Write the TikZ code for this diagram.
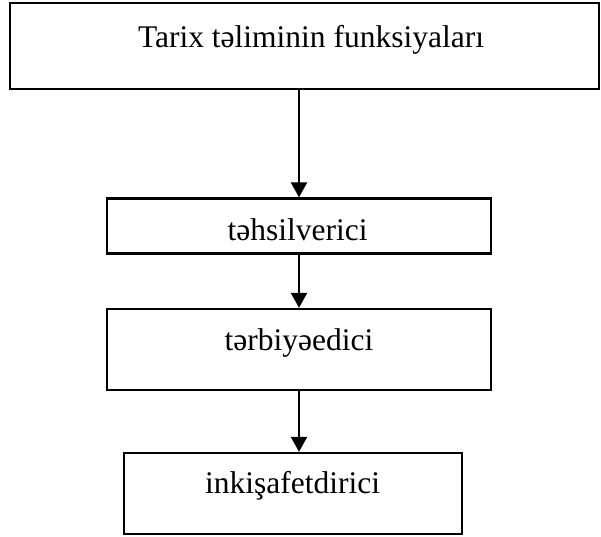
\documentclass[tikz,border=0pt]{standalone}
\usepackage{fontspec}
\setmainfont{Liberation Serif}
\usetikzlibrary{arrows.meta}
\begin{document}
\begin{tikzpicture}[x=1pt,y=-1pt,
  box/.style={draw, line width=2.4pt, inner sep=0pt},
  lbl/.style={anchor=base, inner sep=0pt, font=\fontsize{31.5}{38}\selectfont},
  flow/.style={line width=2.4pt, -{Triangle[length=15pt,width=16pt]}}]
\useasboundingbox (0,0) rectangle (601,536);
% boxes
\node[box, minimum width=589pt, minimum height=86pt] (root) at (304.5,46) {};
\node[box, minimum width=384pt, minimum height=55pt] (edu) at (299,226) {};
\node[box, minimum width=384pt, minimum height=81pt] (tre) at (299,349.5) {};
\node[box, minimum width=338pt, minimum height=81pt] (dev) at (293,493.5) {};
% labels
\node[lbl] (rootlbl) at (311,47) {Tarix təliminin funksiyaları};
\node[lbl] (edulbl) at (297.5,240) {təhsilverici};
\node[lbl] (trelbl) at (299,350) {tərbiyəedici};
\node[lbl] (devlbl) at (292.5,493) {inkişafetdirici};
% connectors
\draw[flow] (edu.north |- root.south) -- (edu.north);
\draw[flow] (edu.south) -- (tre.north);
\draw[flow] (tre.south) -- (tre.south |- dev.north);
\end{tikzpicture}
\end{document}
